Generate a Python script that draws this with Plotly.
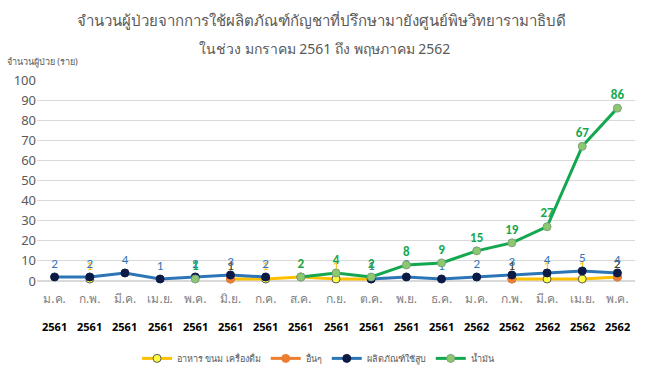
import plotly.graph_objects as go

months = ["ม.ค.", "ก.พ.", "มี.ค.", "เม.ย.", "พ.ค.", "มิ.ย.", "ก.ค.", "ส.ค.", "ก.ย.",
          "ต.ค.", "พ.ย.", "ธ.ค.", "ม.ค.", "ก.พ.", "มี.ค.", "เม.ย.", "พ.ค."]
years = ["2561"] * 12 + ["2562"] * 5
cats = [f"{m} {y}" for m, y in zip(months, years)]

food = [None, 1, None, None, None, 1, 1, 2, 1, 1, None, None, None, 1, 1, 1, 2]
other = [None, None, None, None, None, 1, None, None, None, None, None, None, None, 1, None, None, 2]
smoke = [2, 2, 4, 1, 2, 3, 2, None, None, 1, 2, 1, 2, 3, 4, 5, 4]
oil = [None, None, None, None, 1, None, None, 2, 4, 2, 8, 9, 15, 19, 27, 67, 86]

series = [
    ("อาหาร ขนม เครื่องดื่ม", food, "#FFC000", "#FFFF40", "#5A5A5A", "#FFC000", False),
    ("อื่นๆ", other, "#ED7D31", "#ED7D31", "#ED7D31", "#404040", False),
    ("ผลิตภัณฑ์ใช้สูบ", smoke, "#2E75B6", "#0B1B45", "#0B1B45", "#2E75B6", False),
    ("น้ำมัน", oil, "#13A84F", "#8CC96E", "#7FA07F", "#13A84F", True),
]

fig = go.Figure()
for name, vals, lc, mc, mlc, tc, bold in series:
    fig.add_trace(go.Scatter(
        x=cats, y=vals, name=name,
        mode="lines+markers+text",
        line=dict(color=lc, width=3),
        marker=dict(size=8, color=mc, line=dict(color=mlc, width=1)),
        text=[("<b>%d</b>" % v if bold else "%d" % v) if v is not None else "" for v in vals],
        textposition="top center",
        textfont=dict(color=tc, size=13, family="Calibri, Carlito, Liberation Sans, sans-serif"),
        cliponaxis=False,
        connectgaps=False,
    ))

fig.update_layout(
    width=645, height=383,
    margin=dict(l=37, r=10, t=80, b=102, autoexpand=False),
    paper_bgcolor="white", plot_bgcolor="white",
    font=dict(family="Noto Sans, sans-serif", color="#595959"),
    showlegend=True,
    legend=dict(orientation="h", x=0.47, xanchor="center", y=-0.385, yanchor="middle",
                font=dict(size=9, color="#595959"), itemwidth=30),
    xaxis=dict(tickmode="array", tickvals=cats, ticktext=months, showgrid=False,
               range=[-0.5, 16.5], autorange=False,
               showline=False, zeroline=False, ticks="", automargin=False,
               tickfont=dict(size=12, color="#7F7F7F"), ticklabelstandoff=9),
    yaxis=dict(range=[0, 100], dtick=10, showgrid=True, gridcolor="#D9D9D9", gridwidth=1,
               zeroline=True, zerolinecolor="#D9D9D9", showline=False, ticks="", automargin=False,
               tickfont=dict(size=13, color="#595959")),
)

for c, y in zip(cats, years):
    fig.add_annotation(x=c, y=-0.224, xref="x", yref="paper", yanchor="middle", text="<b>%s</b>" % y,
                       showarrow=False, font=dict(size=11, color="#000000"))

fig.add_annotation(x=0.475, y=1.2985, xref="paper", yref="paper", xanchor="center", yanchor="middle",
                   text="จำนวนผู้ป่วยจากการใช้ผลิตภัณฑ์กัญชาที่ปรึกษามายังศูนย์พิษวิทยารามาธิบดี",
                   showarrow=False, font=dict(size=15, color="#595959"))
fig.add_annotation(x=0.48, y=1.159, xref="paper", yref="paper", xanchor="center", yanchor="middle",
                   text="ในช่วง มกราคม 2561 ถึง พฤษภาคม 2562",
                   showarrow=False, font=dict(size=14, color="#595959"))
fig.add_annotation(x=-0.0535, y=1.0896, xref="paper", yref="paper", xanchor="left", yanchor="middle",
                   text="จำนวนผู้ป่วย (ราย)", showarrow=False, font=dict(size=9, color="#595959"))

fig.write_html("out.html", config={"displayModeBar": False},
               post_script="document.body.style.margin='0';")
